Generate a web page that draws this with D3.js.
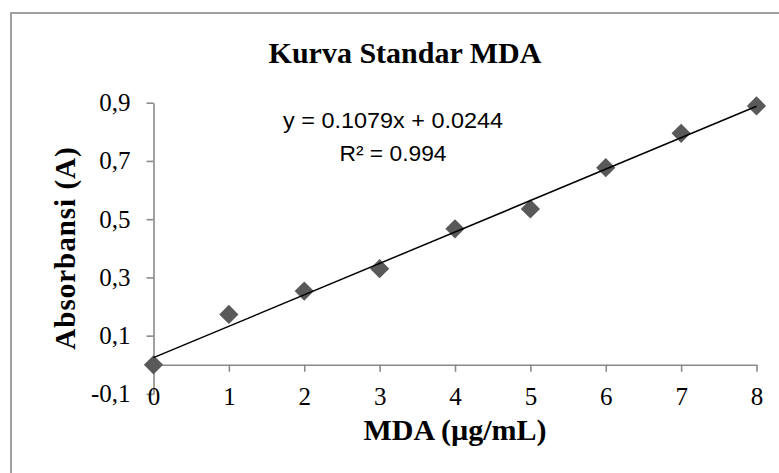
<!DOCTYPE html>
<html>
<head>
<meta charset="utf-8">
<script src="https://cdn.jsdelivr.net/npm/d3@7"></script>
<style>
  body { margin: 0; background: #fff; }
</style>
</head>
<body>
<script>
// data
var concentrations = [0, 1, 2, 3, 4, 5, 6, 7, 8];
var absorbances = [0.0, 0.173, 0.253, 0.330, 0.467, 0.535, 0.677, 0.795, 0.889];
var y_ticks = [-0.1, 0.1, 0.3, 0.5, 0.7, 0.9];
var x_ticks = [0, 1, 2, 3, 4, 5, 6, 7, 8];
var trend = [0.1079, 0.0244]; // slope, intercept
var r_squared = "0.994";

var width = 779, height = 473;

var svg = d3.select("body")
  .append("svg")
    .attr("width", width)
    .attr("height", height);

// chart frame (only top and left edges are visible)
svg.append("rect")
  .attr("x", 11)
  .attr("y", 13)
  .attr("width", 820)
  .attr("height", 520)
  .attr("fill", "none")
  .attr("stroke", "#8a8a8a")
  .attr("stroke-width", 1.6);

var x = d3.scaleLinear()
  .domain([0, 8])
  .range([153.5, 756.5]);

var y = d3.scaleLinear()
  .domain([-0.1, 0.9])
  .range([393.9, 102.7]);

// decimal comma, plain hyphen for negatives
var comma = function(d) { return (d < 0 ? "-" : "") + Math.abs(d).toFixed(1).replace(".", ","); };

// Y axis
var yAxis = svg.append("g")
  .attr("transform", "translate(" + x(0) + ",0)")
  .call(d3.axisLeft(y).tickValues(y_ticks).tickFormat(comma)
    .tickSize(7).tickSizeOuter(0).tickPadding(16));
yAxis.selectAll("text")
  .style("font", "25px 'Liberation Serif', serif")
  .attr("fill", "#000");

// X axis crosses at y = 0
var xAxis = svg.append("g")
  .attr("transform", "translate(0," + y(0) + ")")
  .call(d3.axisBottom(x).tickValues(x_ticks).tickFormat(d3.format("d"))
    .tickSize(7).tickSizeOuter(0).tickPadding(15));
xAxis.selectAll("text")
  .style("font", "25px 'Liberation Serif', serif")
  .attr("fill", "#000");

svg.selectAll(".domain, .tick line")
  .attr("stroke", "#8a8a8a")
  .attr("stroke-width", 1.6);

// markers
svg.selectAll("path.pt")
  .data(concentrations)
  .enter()
  .append("path")
    .attr("class", "pt")
    .attr("d", d3.symbol().type(d3.symbolSquare).size(185))
    .attr("transform", function(d, i) {
      return "translate(" + x(d) + "," + y(absorbances[i]) + ")rotate(45)";
    })
    .attr("fill", "#595959");

// linear trendline
var x0 = d3.min(concentrations), x1 = d3.max(concentrations);
svg.append("line")
  .attr("x1", x(x0))
  .attr("y1", y(trend[0] * x0 + trend[1]))
  .attr("x2", x(x1))
  .attr("y2", y(trend[0] * x1 + trend[1]))
  .attr("stroke", "#000")
  .attr("stroke-width", 1.5);

// equation label
var eq = svg.append("text")
  .attr("text-anchor", "middle")
  .style("font", "22px 'Liberation Sans', sans-serif")
  .attr("fill", "#000");
eq.append("tspan")
  .attr("x", 393)
  .attr("y", 128)
  .attr("textLength", 220)
  .attr("lengthAdjust", "spacingAndGlyphs")
  .text("y = " + trend[0] + "x + " + trend[1]);
eq.append("tspan")
  .attr("x", 393)
  .attr("y", 161)
  .attr("textLength", 107)
  .attr("lengthAdjust", "spacingAndGlyphs")
  .text("R² = " + r_squared);

// titles
svg.append("text")
  .attr("x", 405)
  .attr("y", 63)
  .attr("text-anchor", "middle")
  .style("font", "bold 30px 'Liberation Serif', serif")
  .text("Kurva Standar MDA");

svg.append("text")
  .attr("x", 455)
  .attr("y", 440)
  .attr("text-anchor", "middle")
  .style("font", "bold 30px 'Liberation Serif', serif")
  .text("MDA (µg/mL)");

svg.append("text")
  .attr("transform", "translate(75,248)rotate(-90)")
  .attr("text-anchor", "middle")
  .style("font", "bold 29px 'Liberation Serif', serif")
  .style("letter-spacing", "1px")
  .text("Absorbansi (A)");
</script>
</body>
</html>
